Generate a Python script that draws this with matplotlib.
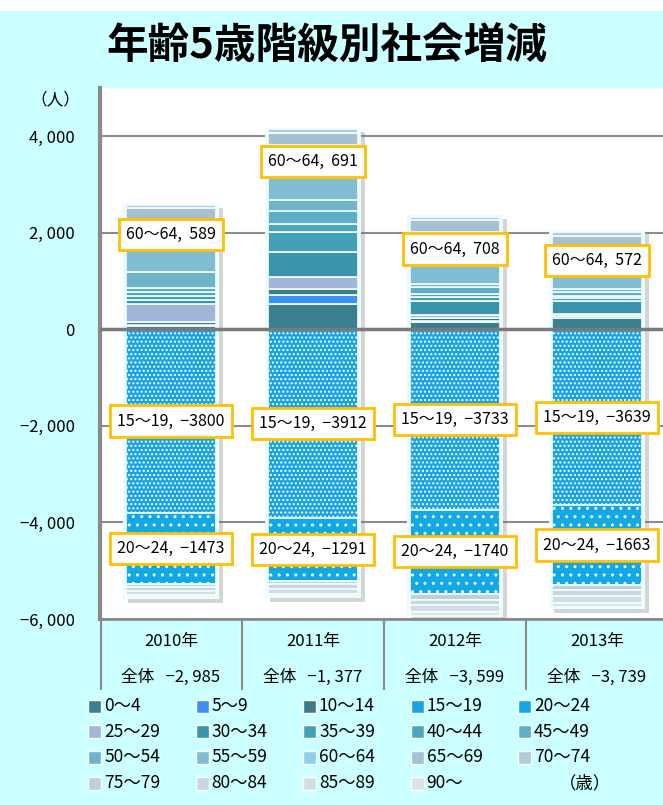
import numpy as np
import matplotlib.pyplot as plt
from matplotlib import patheffects
from matplotlib.patches import Rectangle

plt.rcParams['font.family'] = ['Noto Sans CJK JP', 'DejaVu Sans']
plt.rcParams['hatch.linewidth'] = 1.0

# データ（人）
years = ['2010年', '2011年', '2012年', '2013年']
ages = ['0～4', '5～9', '10～14', '15～19', '20～24', '25～29', '30～34',
        '35～39', '40～44', '45～49', '50～54', '55～59', '60～64',
        '65～69', '70～74', '75～79', '80～84', '85～89', '90～']
v2010 = [80, 10, 60, -3800, -1473, 380, 80, 80, 80, 90, 330, 480, 589, 250, 60, -60, -80, -90, -51]
v2011 = [530, 190, 120, -3912, -1291, 250, 520, 400, 180, 270, 220, 450, 691, 240, 90, -80, -100, -90, -55]
v2012 = [150, 20, 60, -3733, -1740, 60, 300, 90, 60, 130, 60, 380, 708, 250, 70, -124, -120, -130, -90]
v2013 = [230, 10, 40, -3639, -1663, 30, 270, 60, 50, 90, 60, 300, 572, 220, 90, -100, -130, -140, -89]
yticks = [-6000, -4000, -2000, 0, 2000, 4000]
etiquetas = [12, 3, 4]   # 60～64, 15～19, 20～24 の値を表示

colores = ['#3a7f90', '#3d8ff2', '#3c7b8a', '#1aa3df', '#12a8e6', '#a2b6d9',
           '#3a94aa', '#44a0b6', '#4ca7bd', '#5cafc6', '#6cb5ca', '#80bdd2',
           '#8ccfe6', '#a4c0d2', '#b1cbd8', '#bdd1db', '#c8d8e0', '#d1dee4', '#dbe4e8']
tramas = {3: '....', 4: '..', 12: '..'}

datos = np.array([v2010, v2011, v2012, v2013])   # (años, edades)
total = datos.sum(axis=1)

def fmt(v):
    s = '{:,}'.format(abs(int(v))).replace(',', ', ')
    return ('−' if v < 0 else '') + s

W, H = 663, 805
fig = plt.figure(figsize=(W / 100, H / 100), dpi=100, facecolor='#ccffff')
fig.patches.append(Rectangle((0, 1 - 11 / H), 1, 11 / H, transform=fig.transFigure,
                             fc='white', ec='none', zorder=0))

ax = fig.add_axes([100 / W, 1 - 619 / H, 563 / W, 531 / H])
ax.set_facecolor('white')
x = np.arange(len(years))
ancho = 0.63

# fondo de cada barra con sombra
ymin = np.where(datos < 0, datos, 0).sum(axis=1)
ymax = np.where(datos > 0, datos, 0).sum(axis=1)
ax.bar(x, ymax - ymin + 60, ancho + 0.04, bottom=ymin - 30, color='#eafcfd',
       edgecolor='none', zorder=2,
       path_effects=[patheffects.SimplePatchShadow(offset=(3, -3), shadow_rgbFace='#777777', alpha=0.3),
                     patheffects.Normal()])

# barras apiladas (positivos hacia arriba, negativos hacia abajo)
pos = np.zeros(len(years))
neg = np.zeros(len(years))
centros = {}
for i, edad in enumerate(ages):
    v = datos[:, i]
    base = np.where(v >= 0, pos, neg)
    ax.bar(x, v, ancho, bottom=base, color=colores[i], edgecolor='#f2ffff',
           linewidth=1.2, hatch=tramas.get(i), zorder=3)
    centros[i] = base + v / 2
    pos = pos + np.where(v >= 0, v, 0)
    neg = neg + np.where(v < 0, v, 0)

for i in etiquetas:
    for j in range(len(years)):
        ax.text(x[j], centros[i][j], '{},  {}'.format(ages[i], fmt(datos[j, i]).replace(', ', '')),
                ha='center', va='center', fontsize=11.5, zorder=6,
                bbox=dict(boxstyle='square,pad=0.45', fc='white', ec='#ffc000', lw=2))

ax.axhline(0, color='#7a7a7a', lw=2.5, zorder=5)
ax.set_xlim(-0.5, 3.465)
ax.set_ylim(-6000, 5000)
ax.set_yticks(yticks)
ax.set_yticklabels([fmt(t) for t in yticks], fontsize=12)
ax.tick_params(axis='y', length=0, pad=18)
ax.set_xticks([])
ax.yaxis.grid(True, color='#8c8c8c', lw=1.5)
ax.set_axisbelow(True)
for s in ['top', 'right']:
    ax.spines[s].set_visible(False)
ax.spines['left'].set_color('#8a8a8a')
ax.spines['left'].set_linewidth(3)
ax.spines['bottom'].set_color('#8a8a8a')
ax.spines['bottom'].set_linewidth(2)

# tabla de años y totales debajo del gráfico
ax2 = fig.add_axes([100 / W, 1 - 690 / H, 563 / W, 71 / H])
ax2.set_xlim(ax.get_xlim())
ax2.set_ylim(0, 1)
ax2.axis('off')
ax2.vlines([-0.5], 0, 1, color='#8a8a8a', lw=3)
ax2.vlines(x[1:] - 0.5, 0, 1, color='#8a8a8a', lw=1.5)
for j in range(len(years)):
    ax2.text(x[j], 0.69, years[j], ha='center', va='center', fontsize=12)
    ax2.text(x[j], 0.18, '全体   ' + fmt(total[j]), ha='center', va='center', fontsize=12)

# leyenda
for i, edad in enumerate(ages):
    fila, col = divmod(i, 5)
    xl = (88 + col * 107.5) / W
    yl = 1 - (706 + fila * 25.7) / H
    fig.patches.append(Rectangle((xl, yl - 6.5 / H), 13 / W, 13 / H, transform=fig.transFigure,
                                 fc=colores[i], ec='white', lw=1.0))
    fig.text(xl + 16 / W, yl, edad, ha='left', va='center', fontsize=12.5)
fig.text(585 / W, 1 - 783 / H, '（歳）', ha='center', va='center', fontsize=12.5)

fig.text(55 / W, 1 - 100 / H, '（人）', ha='center', va='center', fontsize=12)
fig.text(106 / W, 1 - 46 / H, '年齢5歳階級別社会増減', ha='left', va='center',
         fontsize=30, fontweight='bold')

fig.savefig('out.png', dpi=100, facecolor=fig.get_facecolor())
